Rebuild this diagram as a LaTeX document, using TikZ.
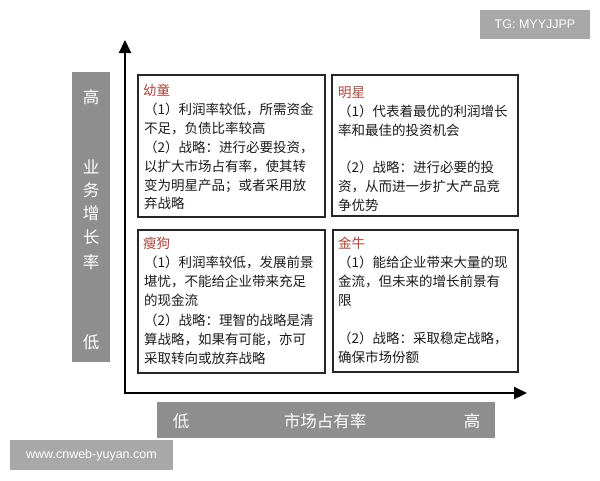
\documentclass[tikz,border=0pt]{standalone}
\usepackage{fontspec}
\setmainfont{Noto Sans CJK SC}
\newfontfamily\latinsans{Liberation Sans}
\usetikzlibrary{arrows.meta}
\definecolor{bargray}{HTML}{8E8E8E}
\definecolor{markgray}{HTML}{A8A8A8}
\definecolor{titlered}{HTML}{A3483C}
\definecolor{bodyink}{HTML}{1C1C1C}
\tikzset{
  quadbox/.style={draw=black!85, line width=1.3pt, fill=white},
  bodytxt/.style={anchor=base west, inner sep=0pt, text=bodyink, font=\fontsize{13.5}{16}\selectfont},
  titletxt/.style={bodytxt, text=titlered},
  barlabel/.style={inner sep=0pt, text=white, font=\fontsize{16.5}{18}\selectfont},
  marktxt/.style={inner sep=0pt, text=white, font=\latinsans\fontsize{12.5}{14}\selectfont},
  axis/.style={line width=2.2pt, black, {Triangle[length=13pt,width=12pt]}-{Triangle[length=13pt,width=12pt]}}
}
\begin{document}
\begin{tikzpicture}[x=1pt,y=-1pt]
\useasboundingbox (0,0) rectangle (600,480);
\fill[white] (0,0) rectangle (600,480);
% watermark TG
\fill[markgray] (480,10) rectangle (590,39);
\node[marktxt] (tg) at (535,24.5) {TG: MYYJJPP};
% left gray bar
\fill[bargray] (72,72) rectangle (110,362);
\node[barlabel] (yhigh) at (91,97) {高};
\node[barlabel] (y1) at (91,167) {业};
\node[barlabel] (y2) at (91,190) {务};
\node[barlabel] (y3) at (91,213) {增};
\node[barlabel] (y4) at (91,237) {长};
\node[barlabel] (y5) at (91,262) {率};
\node[barlabel] (ylow) at (91,342) {低};
% bottom gray bar
\fill[bargray] (157,402) rectangle (495,438);
\node[barlabel] (xlow) at (181,421) {低};
\node[barlabel] (xmid) at (325,421) {市场占有率};
\node[barlabel] (xhigh) at (472,421) {高};
% watermark site
\fill[markgray] (10,440) rectangle (173,470);
\node[marktxt] (site) at (91.5,455) {www.cnweb-yuyan.com};
% axes
\coordinate (ytip) at (125,40);
\coordinate (xtip) at (527,393);
\draw[axis] (ytip) |- (xtip);
% quadrant boxes
\draw[quadbox] (138,75) rectangle (325,217);
\draw[quadbox] (332,75) rectangle (518,216);
\draw[quadbox] (138,230) rectangle (325,373);
\draw[quadbox] (333,230) rectangle (518,372);
% top-left
\node[titletxt] (a0) at (143,95) {幼童};
\node[bodytxt] (a1) at (144,114.5) {（1）利润率较低，所需资金};
\node[bodytxt] (a2) at (144,133.5) {不足，负债比率较高};
\node[bodytxt] (a3) at (144,152.5) {（2）战略：进行必要投资，};
\node[bodytxt] (a4) at (144,171) {以扩大市场占有率，使其转};
\node[bodytxt] (a5) at (144,190) {变为明星产品；或者采用放};
\node[bodytxt] (a6) at (144,208.5) {弃战略};
% top-right
\node[titletxt] (b0) at (338,97) {明星};
\node[bodytxt] (b1) at (338,116) {（1）代表着最优的利润增长};
\node[bodytxt] (b2) at (338,135) {率和最佳的投资机会};
\node[bodytxt] (b3) at (338,172.5) {（2）战略：进行必要的投};
\node[bodytxt] (b4) at (338,191.5) {资，从而进一步扩大产品竞};
\node[bodytxt] (b5) at (338,210.5) {争优势};
% bottom-left
\node[titletxt] (c0) at (143,248) {瘦狗};
\node[bodytxt] (c1) at (144,267.5) {（1）利润率较低，发展前景};
\node[bodytxt] (c2) at (144,286.5) {堪忧，不能给企业带来充足};
\node[bodytxt] (c3) at (144,305) {的现金流};
\node[bodytxt] (c4) at (144,325.5) {（2）战略：理智的战略是清};
\node[bodytxt] (c5) at (144,344.5) {算战略，如果有可能，亦可};
\node[bodytxt] (c6) at (144,363.5) {采取转向或放弃战略};
% bottom-right
\node[titletxt] (d0) at (338,248) {金牛};
\node[bodytxt] (d1) at (338,267.5) {（1）能给企业带来大量的现};
\node[bodytxt] (d2) at (338,286.5) {金流，但未来的增长前景有};
\node[bodytxt] (d3) at (338,305.5) {限};
\node[bodytxt] (d4) at (338,343) {（2）战略：采取稳定战略，};
\node[bodytxt] (d5) at (338,362) {确保市场份额};
\end{tikzpicture}
\end{document}
